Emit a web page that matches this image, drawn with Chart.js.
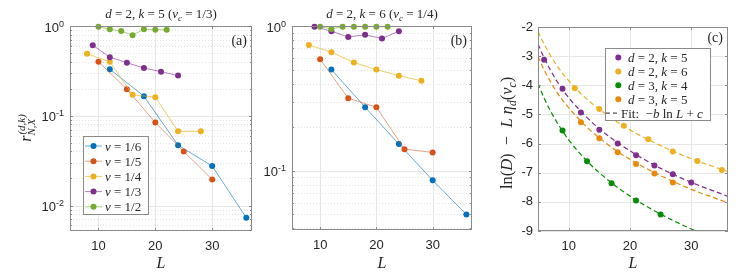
<!DOCTYPE html>
<html>
<head>
<meta charset="utf-8">
<script src="https://cdn.jsdelivr.net/npm/chart.js@4.4.1/dist/chart.umd.min.js"></script>
<style>
  body { margin: 0; background: #fff; }
  #wrap { position: relative; width: 748px; height: 273px; }
  canvas { position: absolute; top: 0; }
</style>
</head>
<body>
<div id="wrap">
  <canvas id="pa" width="262" height="273" style="left:0px"></canvas>
  <canvas id="pb" width="220" height="273" style="left:262px"></canvas>
  <canvas id="pc" width="266" height="273" style="left:482px"></canvas>
</div>
<script>
const SANS = '"Liberation Sans", Arial, sans-serif';
const SERIF = '"Liberation Serif", "DejaVu Serif", serif';
const INK = '#262626';
const BOX = '#8a8a8a';

// x axis (same for all three panels)
const xTicks = [10, 20, 30];

// (a) d=2, k=5 (nu_c = 1/3)
const aL16 = [12, 18, 24, 30, 36];
const aR16 = [0.33, 0.165, 0.047, 0.0275, 0.0073];
const aL15 = [10, 15, 20, 25, 30];
const aR15 = [0.40, 0.198, 0.084, 0.040, 0.0195];
const aL14 = [8, 12, 16, 20, 24, 28];
const aR14 = [0.49, 0.40, 0.171, 0.161, 0.067, 0.067];
const aL13 = [9, 12, 15, 18, 21, 24];
const aR13 = [0.61, 0.45, 0.39, 0.34, 0.31, 0.28];
const aL12 = [10, 12, 14, 16, 18, 20, 22];
const aR12 = [0.98, 0.92, 0.88, 0.79, 0.92, 0.91, 0.91];

// (b) d=2, k=6 (nu_c = 1/4)
const bL16 = [12, 18, 24, 30, 36];
const bR16 = [0.50, 0.275, 0.153, 0.086, 0.050];
const bL15 = [10, 15, 20, 25, 30];
const bR15 = [0.59, 0.317, 0.275, 0.141, 0.134];
const bL14 = [8, 12, 16, 20, 24, 28];
const bR14 = [0.74, 0.66, 0.56, 0.50, 0.454, 0.418];
const bL13 = [9, 12, 15, 18, 21, 24];
const bR13 = [0.99, 0.92, 0.84, 0.87, 0.82, 0.92];
const bL12 = [10, 12, 14, 16, 18, 20, 22];
const bR12 = [0.99, 0.955, 0.99, 0.99, 0.99, 0.99, 0.99];

const nuLabels = ['1/6', '1/5', '1/4', '1/3', '1/2'];
const nuColors = ['#0072BD', '#D95319', '#EDB120', '#7E2F8E', '#77AC30'];
const nuLineColors = ['rgba(0,114,189,0.6)', 'rgba(217,83,25,0.55)', 'rgba(237,177,32,0.65)', 'rgba(126,47,142,0.6)', 'rgba(119,172,48,0.6)'];

const aYTicks = [0.01, 0.1, 1];
const aYExp = ['-2', '-1', '0'];
const bYTicks = [0.1, 1];
const bYExp = ['-1', '0'];

// (c) ln(D) - L eta_d(nu_c)
const cL25 = [6, 9, 12, 15, 18, 21, 24, 27, 30];
const cY25 = [-3.12, -4.12, -4.93, -5.53, -6.00, -6.40, -6.75, -7.05, -7.34];
const cL26 = [11, 15, 19, 23, 27, 31, 35];
const cY26 = [-4.10, -4.81, -5.39, -5.85, -6.27, -6.60, -6.91];
const cL34 = [9, 13, 17, 21, 25];
const cY34 = [-5.55, -6.61, -7.36, -7.95, -8.43];
const cL35 = [12, 15, 18, 21, 24, 27];
const cY35 = [-5.27, -5.82, -6.30, -6.70, -7.03, -7.34];

// dashed fits
const fitL = [5, 6, 8, 10, 13, 16, 20, 25, 30, 36];
const fit25 = [-2.58, -3.06, -3.83, -4.42, -5.11, -5.66, -6.25, -6.85, -7.33, -7.81];
const fit26 = [-2.15, -2.59, -3.30, -3.84, -4.48, -4.98, -5.53, -6.07, -6.52, -6.96];
const fit34 = [-3.93, -4.44, -5.24, -5.87, -6.60, -7.18, -7.80, -8.42, -8.93, -9.45];
const fit35 = [-3.01, -3.47, -4.21, -4.77, -5.44, -5.97, -6.54, -7.10, -7.57, -8.03];

const cLegend = [['2', '5'], ['2', '6'], ['3', '4'], ['3', '5']];
const cColors = ['#7E2F8E', '#EDB120', '#078C07', '#E9890B'];
const cYTicks = [-9, -8, -7, -6, -5, -4, -3, -2];

function pts(xs, ys) { return xs.map((x, i) => ({ x: x, y: ys[i] })); }

function minorLog(lo, hi) {
  const out = [];
  for (let e = Math.floor(Math.log10(lo)); e < Math.ceil(Math.log10(hi)); e++) {
    for (let k = 2; k <= 9; k++) {
      const v = k * Math.pow(10, e);
      if (v > lo && v < hi) out.push(v);
    }
  }
  return out;
}

// --- math-ish text in runs: [text, kind], kind = r | i | isub | isup
function runFont(kind, size) {
  const it = kind[0] === 'i' ? 'italic ' : '';
  const small = kind.endsWith('sub') || kind.endsWith('sup');
  return it + (small ? size * 0.7 : size) + 'px ' + SERIF;
}
function runShift(kind, size) {
  if (kind.endsWith('sub')) return size * 0.25;
  if (kind.endsWith('sup')) return -size * 0.4;
  return 0;
}
function runsWidth(ctx, runs, size) {
  let w = 0;
  runs.forEach(r => { ctx.font = runFont(r[1], size); w += ctx.measureText(r[0]).width; });
  return w;
}
function drawRuns(ctx, runs, x, y, size, align) {
  const w = runsWidth(ctx, runs, size);
  let cx = align === 'center' ? x - w / 2 : align === 'right' ? x - w : x;
  ctx.textAlign = 'left';
  ctx.textBaseline = 'alphabetic';
  ctx.fillStyle = INK;
  runs.forEach(r => {
    ctx.font = runFont(r[1], size);
    ctx.fillText(r[0], cx, y + runShift(r[1], size));
    cx += ctx.measureText(r[0]).width;
  });
}

function seg(ctx, x1, y1, x2, y2) {
  ctx.beginPath(); ctx.moveTo(x1, y1); ctx.lineTo(x2, y2); ctx.stroke();
}
function dot(ctx, x, y, color) {
  ctx.fillStyle = color;
  ctx.beginPath(); ctx.arc(x, y, 3, 0, Math.PI * 2); ctx.fill();
}

function decor(cfg) {
  return {
    id: 'decor',
    beforeDatasetsDraw(chart) {
      const { ctx, chartArea: a, scales: { x, y } } = chart;
      ctx.save();
      ctx.lineWidth = 1;
      ctx.strokeStyle = '#e3e3e3';
      ctx.setLineDash([1, 2]);
      cfg.yMinor.forEach(v => {
        const py = Math.round(y.getPixelForValue(v)) + 0.5;
        seg(ctx, a.left, py, a.right, py);
      });
      ctx.setLineDash([]);
      ctx.strokeStyle = '#e6e6e6';
      cfg.yMajor.forEach(v => {
        const py = Math.round(y.getPixelForValue(v)) + 0.5;
        seg(ctx, a.left, py, a.right, py);
      });
      xTicks.forEach(v => {
        const px = Math.round(x.getPixelForValue(v)) + 0.5;
        seg(ctx, px, a.top, px, a.bottom);
      });
      ctx.restore();
    },
    afterDatasetsDraw(chart) {
      const { ctx, chartArea: a, scales: { x, y } } = chart;
      ctx.save();
      // axes box + inward ticks
      ctx.strokeStyle = BOX;
      ctx.lineWidth = 1;
      ctx.strokeRect(a.left + 0.5, a.top + 0.5, a.right - a.left - 1, a.bottom - a.top - 1);
      xTicks.forEach(v => {
        const px = Math.round(x.getPixelForValue(v)) + 0.5;
        seg(ctx, px, a.bottom, px, a.bottom - 3);
        seg(ctx, px, a.top, px, a.top + 3);
      });
      cfg.yMajor.forEach(v => {
        const py = Math.round(y.getPixelForValue(v)) + 0.5;
        seg(ctx, a.left, py, a.left + 3, py);
        seg(ctx, a.right, py, a.right - 3, py);
      });
      cfg.yMinor.forEach(v => {
        const py = Math.round(y.getPixelForValue(v)) + 0.5;
        seg(ctx, a.left, py, a.left + 2, py);
        seg(ctx, a.right, py, a.right - 2, py);
      });
      // log tick labels 10^n
      if (cfg.logTicks) {
        cfg.logTicks.forEach((v, i) => {
          const py = y.getPixelForValue(v);
          ctx.font = '9px ' + SANS;
          const we = ctx.measureText(cfg.logExp[i]).width;
          ctx.fillStyle = INK;
          ctx.textAlign = 'right';
          ctx.textBaseline = 'alphabetic';
          ctx.font = '13px ' + SANS;
          ctx.fillText('10', a.left - 6 - we, py + 5.5);
          ctx.font = '9px ' + SANS;
          ctx.fillText(cfg.logExp[i], a.left - 6, py + 0.5);
        });
      }
      const cx = (a.left + a.right) / 2;
      if (cfg.title) drawRuns(ctx, cfg.title, cx, 18, 13, 'center');
      drawRuns(ctx, [[cfg.tag, 'r']], a.right - 5, cfg.tagY, 14, 'right');
      drawRuns(ctx, [['L', 'i']], cx, 268, 16, 'center');
      if (cfg.extra) cfg.extra(ctx, a);
      ctx.restore();
    }
  };
}

function panelOptions(o) {
  return {
    responsive: false,
    animation: false,
    events: [],
    layout: { padding: { top: o.top, right: o.right, left: 0, bottom: 0 } },
    plugins: { legend: { display: false }, tooltip: { enabled: false } },
    scales: {
      x: {
        type: 'linear', min: 5, max: o.xMax,
        grid: { display: false, drawTicks: false },
        border: { display: false },
        afterBuildTicks: s => { s.ticks = xTicks.map(v => ({ value: v })); },
        afterFit: s => { s.height = o.xH; },
        ticks: { font: { family: SANS, size: 13 }, color: INK, padding: 8, maxRotation: 0 }
      },
      y: o.y
    }
  };
}

function logY(min, width) {
  return {
    type: 'logarithmic', min: min, max: 1,
    grid: { display: false, drawTicks: false },
    border: { display: false },
    ticks: { display: false },
    afterFit: s => { s.width = width; }
  };
}

function nuSets(list) {
  return list.map((s, i) => ({
    data: pts(s[0], s[1]),
    borderColor: nuLineColors[i],
    borderWidth: 1,
    pointBackgroundColor: nuColors[i],
    pointBorderColor: nuColors[i],
    pointBorderWidth: 0,
    pointRadius: 3,
    clip: false,
    order: 5 - i
  }));
}

// ---------- panel (a)
function legendA(ctx) {
  const bx = 83, by = 136, bw = 65, bh = 78;
  ctx.fillStyle = '#fff';
  ctx.fillRect(bx, by, bw, bh);
  ctx.strokeStyle = BOX;
  ctx.lineWidth = 1;
  ctx.strokeRect(bx + 0.5, by + 0.5, bw, bh);
  nuLabels.forEach((lab, i) => {
    const ry = 146 + i * 15.2;
    ctx.strokeStyle = nuLineColors[i];
    seg(ctx, 85, ry, 102, ry);
    dot(ctx, 93.5, ry, nuColors[i]);
    drawRuns(ctx, [['ν', 'i'], [' = ' + lab, 'r']], 105, ry + 4.5, 13, 'left');
  });
}
function yLabelA(ctx) {
  ctx.save();
  ctx.translate(31, 128.5);
  ctx.rotate(-Math.PI / 2);
  ctx.font = 'italic 16px ' + SERIF;
  const wr = ctx.measureText('r').width;
  ctx.font = 'italic 11px ' + SERIF;
  const ws = Math.max(ctx.measureText('(d,k)').width, ctx.measureText('N,X').width);
  const x0 = -(wr + ws) / 2;
  ctx.fillStyle = INK;
  ctx.textAlign = 'left';
  ctx.textBaseline = 'alphabetic';
  ctx.font = 'italic 16px ' + SERIF;
  ctx.fillText('r', x0, 0);
  ctx.font = 'italic 11px ' + SERIF;
  ctx.fillText('(d,k)', x0 + wr + 1, -6.5);
  ctx.fillText('N,X', x0 + wr, 4);
  ctx.restore();
}

new Chart(document.getElementById('pa'), {
  type: 'line',
  data: { datasets: nuSets([[aL16, aR16], [aL15, aR15], [aL14, aR14], [aL13, aR13], [aL12, aR12]]) },
  options: panelOptions({ top: 26, right: 10, xH: 42, xMax: 37, y: logY(0.0052, 70) }),
  plugins: [decor({
    yMajor: aYTicks, yMinor: minorLog(0.0052, 1), logTicks: aYTicks, logExp: aYExp,
    title: [['d', 'i'], [' = 2, ', 'r'], ['k', 'i'], [' = 5 (', 'r'], ['ν', 'i'], ['c', 'isub'], [' = 1/3)', 'r']],
    tag: '(a)', tagY: 45,
    extra: (ctx) => { legendA(ctx); yLabelA(ctx); }
  })]
});

// ---------- panel (b)
new Chart(document.getElementById('pb'), {
  type: 'line',
  data: { datasets: nuSets([[bL16, bR16], [bL15, bR15], [bL14, bR14], [bL13, bR13], [bL12, bR12]]) },
  options: panelOptions({ top: 26, right: 10, xH: 43, xMax: 37, y: logY(0.039, 30) }),
  plugins: [decor({
    yMajor: bYTicks, yMinor: minorLog(0.039, 1), logTicks: bYTicks, logExp: bYExp,
    title: [['d', 'i'], [' = 2, ', 'r'], ['k', 'i'], [' = 6 (', 'r'], ['ν', 'i'], ['c', 'isub'], [' = 1/4)', 'r']],
    tag: '(b)', tagY: 45
  })]
});

// ---------- panel (c)
function legendC(ctx) {
  const bx = 123, by = 48, bw = 105, bh = 72;
  ctx.fillStyle = '#fff';
  ctx.fillRect(bx, by, bw, bh);
  ctx.strokeStyle = BOX;
  ctx.lineWidth = 1;
  ctx.strokeRect(bx + 0.5, by + 0.5, bw, bh);
  cLegend.forEach((dk, i) => {
    const ry = 57.5 + i * 13.9;
    dot(ctx, 136.3, ry, cColors[i]);
    drawRuns(ctx, [['d', 'i'], [' = ' + dk[0] + ', ', 'r'], ['k', 'i'], [' = ' + dk[1], 'r']], 146, ry + 4.5, 13, 'left');
  });
  const ry = 57.5 + 4 * 13.9;
  ctx.strokeStyle = INK;
  ctx.setLineDash([4, 3]);
  seg(ctx, 124, ry, 137, ry);
  ctx.setLineDash([]);
  drawRuns(ctx, [['Fit:  ', 'r'], ['\u2212', 'r'], ['b', 'i'], [' ln ', 'r'], ['L', 'i'], [' + ', 'r'], ['c', 'i']], 139, ry + 4.5, 13, 'left');
}
function yLabelC(ctx) {
  ctx.save();
  ctx.translate(30, 133);
  ctx.rotate(-Math.PI / 2);
  drawRuns(ctx, [['ln(', 'r'], ['D', 'i'], [')  \u2212  ', 'r'], ['L', 'i'], [' ', 'r'], ['η', 'i'], ['d', 'isub'], ['(', 'r'], ['ν', 'i'], ['c', 'isub'], [')', 'r']], 0, 0, 16.5, 'center');
  ctx.restore();
}

const cData = [[cL25, cY25], [cL26, cY26], [cL34, cY34], [cL35, cY35]];
const cFits = [fit25, fit26, fit34, fit35];
const cSets = [];
cData.forEach((s, i) => {
  cSets.push({
    data: pts(s[0], s[1]), showLine: false,
    pointBackgroundColor: cColors[i], pointBorderColor: cColors[i],
    pointBorderWidth: 0, pointRadius: 3, clip: false, order: 0
  });
  cSets.push({
    data: pts(fitL, cFits[i]), borderColor: cColors[i], borderWidth: 1.2,
    borderDash: [5, 3], pointRadius: 0, cubicInterpolationMode: 'monotone', order: 1
  });
});

new Chart(document.getElementById('pc'), {
  type: 'line',
  data: { datasets: cSets },
  options: panelOptions({
    top: 27, right: 20, xH: 42, xMax: 36,
    y: {
      type: 'linear', min: -9, max: -2,
      grid: { display: false, drawTicks: false },
      border: { display: false },
      afterBuildTicks: s => { s.ticks = cYTicks.map(v => ({ value: v })); },
      afterFit: s => { s.width = 56; },
      ticks: { font: { family: SANS, size: 13 }, color: INK, padding: 5, callback: v => String(v) }
    }
  }),
  plugins: [decor({
    yMajor: cYTicks, yMinor: [],
    tag: '(c)', tagY: 42,
    extra: (ctx) => { legendC(ctx); yLabelC(ctx); }
  })]
});
</script>
</body>
</html>
